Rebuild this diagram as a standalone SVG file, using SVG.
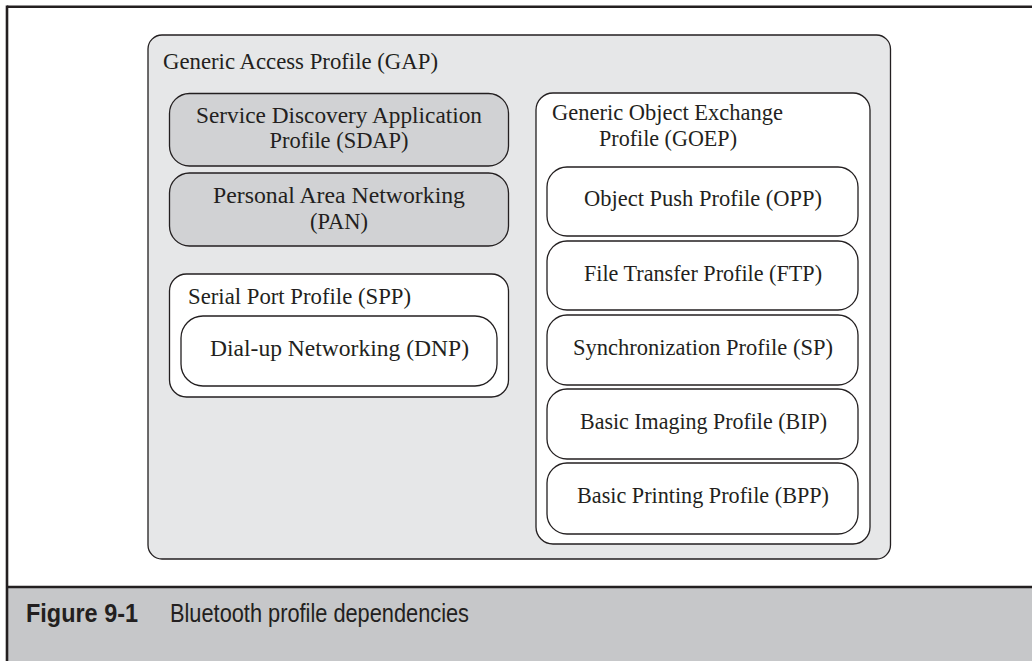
<svg xmlns="http://www.w3.org/2000/svg" width="1032" height="661" viewBox="0 0 1032 661">
<style>
.box{stroke:#231f20;stroke-width:1.3}
.dark{fill:#d1d2d4}
.white{fill:#ffffff}
.t{font-family:"Liberation Serif","Times New Roman",serif;font-size:23.5px;fill:#231f20}
.c{text-anchor:middle}
.cap{font-family:"Liberation Sans",Arial,sans-serif;font-size:26px;fill:#231f20}
</style>
<rect x="0" y="0" width="1032" height="661" fill="#ffffff"/>
<g id="frame">
<rect x="7" y="587" width="1025" height="74" fill="#c6c7c9"/>
<line x1="7" y1="6.8" x2="1032" y2="6.8" stroke="#231f20" stroke-width="2.6"/>
<line x1="7" y1="587" x2="1032" y2="587" stroke="#231f20" stroke-width="2.6"/>
<line x1="7" y1="5.5" x2="7" y2="661" stroke="#231f20" stroke-width="2.6"/>
<text class="cap" x="26" y="622" font-weight="bold" textLength="112" lengthAdjust="spacingAndGlyphs">Figure 9-1</text>
<text class="cap" x="170" y="622" textLength="299" lengthAdjust="spacingAndGlyphs">Bluetooth profile dependencies</text>
</g>
<g id="gap">
<rect class="box" x="148" y="35" width="742.5" height="524" rx="14" fill="#e6e7e8"/>
<text class="t" x="163" y="69" textLength="275" lengthAdjust="spacingAndGlyphs">Generic Access Profile (GAP)</text>
</g>
<g id="sdap">
<rect class="box dark" x="169.5" y="93.5" width="339" height="72.5" rx="20"/>
<text class="t c" x="339" y="123" textLength="286" lengthAdjust="spacingAndGlyphs">Service Discovery Application</text>
<text class="t c" x="339" y="148" textLength="139" lengthAdjust="spacingAndGlyphs">Profile (SDAP)</text>
</g>
<g id="pan">
<rect class="box dark" x="169.5" y="173" width="339" height="73" rx="20"/>
<text class="t c" x="339" y="203" textLength="252" lengthAdjust="spacingAndGlyphs">Personal Area Networking</text>
<text class="t c" x="339" y="229" textLength="58" lengthAdjust="spacingAndGlyphs">(PAN)</text>
</g>
<g id="spp">
<rect class="box white" x="169.5" y="274" width="339" height="123" rx="17"/>
<text class="t" x="188" y="304" textLength="223" lengthAdjust="spacingAndGlyphs">Serial Port Profile (SPP)</text>
</g>
<g id="dnp">
<rect class="box white" x="181" y="316" width="316" height="70" rx="22"/>
<text class="t c" x="339.5" y="356" textLength="259" lengthAdjust="spacingAndGlyphs">Dial-up Networking (DNP)</text>
</g>
<g id="goep">
<rect class="box white" x="536" y="93" width="334" height="451" rx="17"/>
<text class="t" x="552" y="120" textLength="231" lengthAdjust="spacingAndGlyphs">Generic Object Exchange</text>
<text class="t" x="599" y="146" textLength="138" lengthAdjust="spacingAndGlyphs">Profile (GOEP)</text>
</g>
<g id="opp">
<rect class="box white" x="547" y="167" width="311" height="69" rx="20"/>
<text class="t c" x="703" y="206" textLength="238" lengthAdjust="spacingAndGlyphs">Object Push Profile (OPP)</text>
</g>
<g id="ftp">
<rect class="box white" x="547" y="241" width="311" height="69" rx="20"/>
<text class="t c" x="703" y="281" textLength="238" lengthAdjust="spacingAndGlyphs">File Transfer Profile (FTP)</text>
</g>
<g id="sp">
<rect class="box white" x="547" y="315" width="311" height="70" rx="20"/>
<text class="t c" x="703" y="355" textLength="260" lengthAdjust="spacingAndGlyphs">Synchronization Profile (SP)</text>
</g>
<g id="bip">
<rect class="box white" x="547" y="389" width="311" height="70" rx="20"/>
<text class="t c" x="703.5" y="429" textLength="247" lengthAdjust="spacingAndGlyphs">Basic Imaging Profile (BIP)</text>
</g>
<g id="bpp">
<rect class="box white" x="547" y="463" width="311" height="71" rx="20"/>
<text class="t c" x="703" y="503" textLength="252" lengthAdjust="spacingAndGlyphs">Basic Printing Profile (BPP)</text>
</g>
<g id="connectors"></g>
</svg>
